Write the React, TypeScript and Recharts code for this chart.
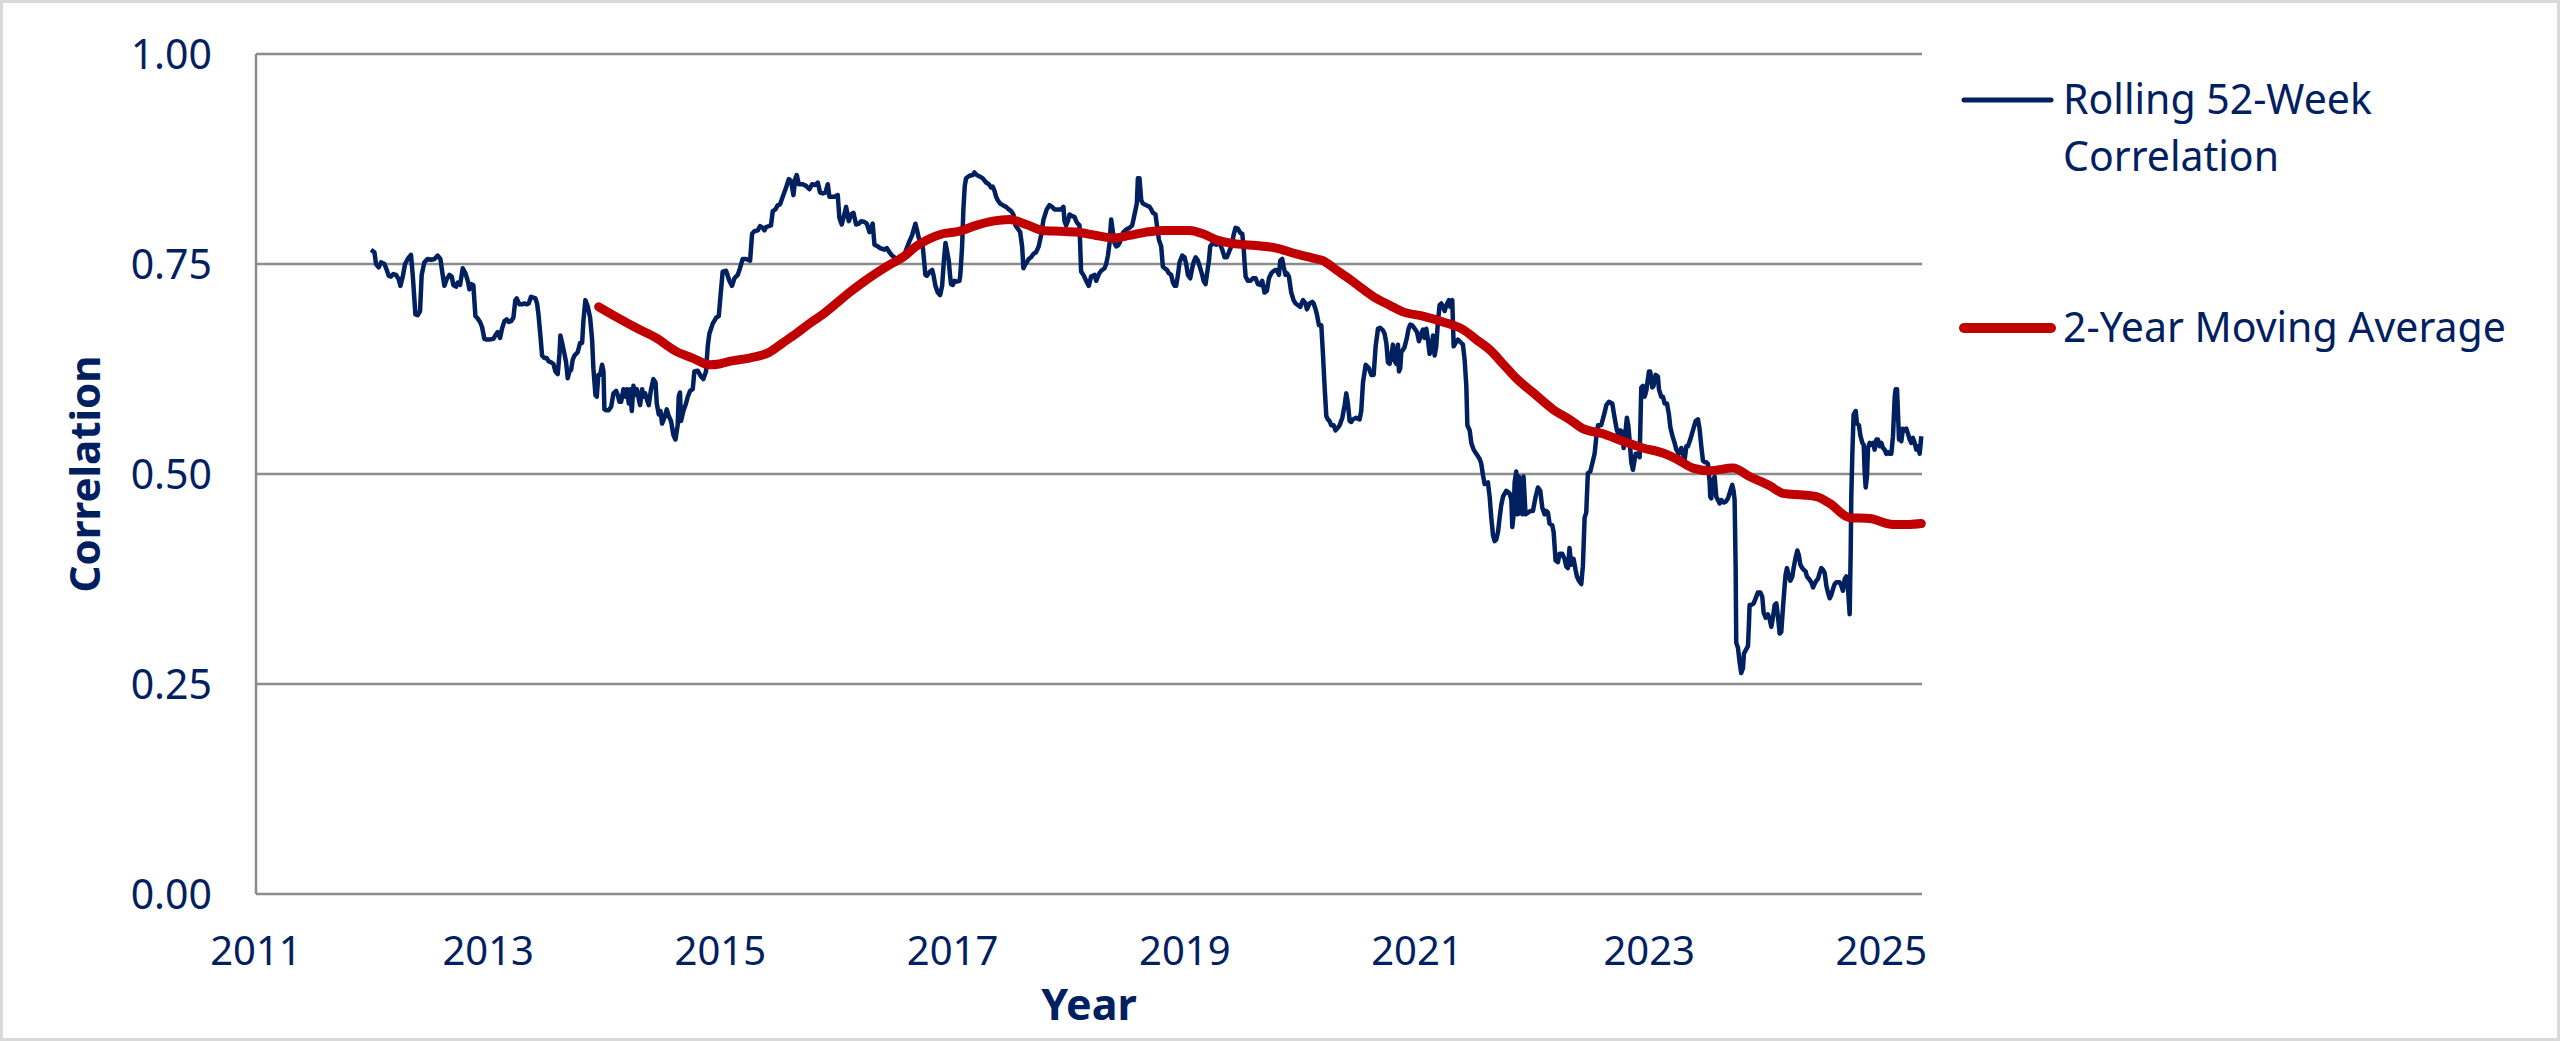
import React from 'react';
import {
  LineChart,
  Line,
  XAxis,
  YAxis,
  CartesianGrid,
  Legend,
} from 'recharts';

// weekly rolling correlation as [year, value]
const rolling2012to2014: [number, number][] = [
  [2011.991, 0.767], [2012.02, 0.764], [2012.034, 0.75], [2012.057, 0.746], [2012.077, 0.752],
  [2012.106, 0.75], [2012.126, 0.743], [2012.143, 0.736], [2012.163, 0.735], [2012.183, 0.738],
  [2012.206, 0.737], [2012.229, 0.732], [2012.244, 0.724], [2012.264, 0.735], [2012.284, 0.75],
  [2012.307, 0.756], [2012.335, 0.761], [2012.35, 0.737], [2012.373, 0.69], [2012.393, 0.689],
  [2012.413, 0.694], [2012.427, 0.737], [2012.45, 0.752], [2012.479, 0.756], [2012.508, 0.755],
  [2012.537, 0.756], [2012.565, 0.76], [2012.588, 0.756], [2012.608, 0.737], [2012.623, 0.724],
  [2012.643, 0.732], [2012.666, 0.737], [2012.686, 0.735], [2012.7, 0.725], [2012.723, 0.723],
  [2012.737, 0.728], [2012.758, 0.725], [2012.781, 0.745], [2012.804, 0.739], [2012.824, 0.73],
  [2012.838, 0.72], [2012.852, 0.726], [2012.872, 0.725], [2012.89, 0.688], [2012.91, 0.685],
  [2012.93, 0.681], [2012.947, 0.675], [2012.967, 0.661], [2012.987, 0.66], [2013.01, 0.66],
  [2013.045, 0.661], [2013.062, 0.665], [2013.082, 0.669], [2013.102, 0.662], [2013.119, 0.673],
  [2013.14, 0.682], [2013.16, 0.684], [2013.177, 0.681], [2013.197, 0.682], [2013.217, 0.686],
  [2013.234, 0.707], [2013.246, 0.709], [2013.269, 0.702], [2013.292, 0.702], [2013.312, 0.703],
  [2013.332, 0.702], [2013.349, 0.703], [2013.369, 0.711], [2013.389, 0.71], [2013.407, 0.709],
  [2013.421, 0.703], [2013.433, 0.69], [2013.447, 0.669], [2013.464, 0.641], [2013.484, 0.638],
  [2013.504, 0.638], [2013.522, 0.634], [2013.542, 0.633], [2013.562, 0.631], [2013.579, 0.622],
  [2013.599, 0.619], [2013.614, 0.643], [2013.622, 0.665], [2013.637, 0.656], [2013.657, 0.643],
  [2013.671, 0.633], [2013.685, 0.614], [2013.7, 0.622], [2013.714, 0.624], [2013.728, 0.636],
  [2013.743, 0.641], [2013.757, 0.643], [2013.771, 0.645], [2013.791, 0.656], [2013.809, 0.656],
  [2013.82, 0.682], [2013.837, 0.707], [2013.858, 0.699], [2013.878, 0.686], [2013.895, 0.66],
  [2013.906, 0.626], [2013.924, 0.594], [2013.935, 0.592], [2013.949, 0.618], [2013.964, 0.618],
  [2013.981, 0.63], [2013.993, 0.622], [2014.001, 0.577], [2014.015, 0.576], [2014.038, 0.576],
  [2014.059, 0.58], [2014.079, 0.596], [2014.102, 0.599], [2014.116, 0.594], [2014.13, 0.586],
  [2014.145, 0.586], [2014.165, 0.601], [2014.182, 0.592], [2014.194, 0.601], [2014.211, 0.584],
  [2014.222, 0.601], [2014.237, 0.575], [2014.251, 0.605], [2014.265, 0.594], [2014.28, 0.601],
  [2014.294, 0.591], [2014.308, 0.582], [2014.326, 0.601], [2014.337, 0.592], [2014.352, 0.596],
  [2014.366, 0.589], [2014.383, 0.582], [2014.403, 0.601], [2014.423, 0.613], [2014.441, 0.609],
  [2014.452, 0.584], [2014.469, 0.571], [2014.484, 0.575], [2014.498, 0.56], [2014.518, 0.567],
  [2014.538, 0.577], [2014.555, 0.569], [2014.575, 0.563], [2014.596, 0.546], [2014.613, 0.541],
];

const rolling2014to2018: [number, number][] = [
  [2014.632, 0.558], [2014.641, 0.592], [2014.652, 0.597], [2014.661, 0.563], [2014.681, 0.575],
  [2014.704, 0.584], [2014.719, 0.592], [2014.739, 0.599], [2014.762, 0.601], [2014.776, 0.622],
  [2014.805, 0.623], [2014.833, 0.616], [2014.853, 0.613], [2014.876, 0.622], [2014.891, 0.652],
  [2014.905, 0.667], [2014.934, 0.679], [2014.963, 0.686], [2014.986, 0.688], [2015.006, 0.72],
  [2015.02, 0.741], [2015.049, 0.742], [2015.077, 0.73], [2015.1, 0.724], [2015.121, 0.733],
  [2015.149, 0.737], [2015.169, 0.745], [2015.192, 0.756], [2015.221, 0.756], [2015.256, 0.754],
  [2015.273, 0.786], [2015.293, 0.789], [2015.322, 0.79], [2015.342, 0.795], [2015.365, 0.793],
  [2015.379, 0.79], [2015.393, 0.794], [2015.416, 0.795], [2015.436, 0.796], [2015.451, 0.813],
  [2015.474, 0.815], [2015.494, 0.82], [2015.514, 0.821], [2015.537, 0.83], [2015.566, 0.841],
  [2015.589, 0.851], [2015.609, 0.849], [2015.629, 0.832], [2015.646, 0.852], [2015.658, 0.856],
  [2015.675, 0.845], [2015.709, 0.845], [2015.738, 0.843], [2015.767, 0.839], [2015.79, 0.845],
  [2015.818, 0.844], [2015.839, 0.847], [2015.859, 0.835], [2015.882, 0.834], [2015.905, 0.835],
  [2015.925, 0.845], [2015.939, 0.83], [2015.954, 0.83], [2015.982, 0.83], [2016.011, 0.832],
  [2016.025, 0.805], [2016.045, 0.797], [2016.068, 0.809], [2016.083, 0.818], [2016.106, 0.801],
  [2016.126, 0.809], [2016.146, 0.811], [2016.169, 0.797], [2016.192, 0.798], [2016.212, 0.801],
  [2016.241, 0.8], [2016.261, 0.798], [2016.284, 0.788], [2016.312, 0.798], [2016.327, 0.773],
  [2016.355, 0.771], [2016.376, 0.769], [2016.413, 0.767], [2016.433, 0.769], [2016.456, 0.764],
  [2016.479, 0.76], [2016.499, 0.758], [2016.528, 0.755], [2016.548, 0.754], [2016.571, 0.756],
  [2016.6, 0.767], [2016.628, 0.777], [2016.651, 0.784], [2016.663, 0.79], [2016.68, 0.798],
  [2016.694, 0.79], [2016.709, 0.781], [2016.743, 0.771], [2016.766, 0.737], [2016.778, 0.736],
  [2016.806, 0.741], [2016.824, 0.743], [2016.835, 0.737], [2016.852, 0.724], [2016.872, 0.716],
  [2016.893, 0.713], [2016.91, 0.724], [2016.924, 0.752], [2016.939, 0.775], [2016.95, 0.767],
  [2016.967, 0.754], [2016.979, 0.735], [2016.987, 0.726], [2017.002, 0.725], [2017.016, 0.73],
  [2017.036, 0.729], [2017.059, 0.73], [2017.065, 0.735], [2017.073, 0.75], [2017.082, 0.771],
  [2017.093, 0.815], [2017.105, 0.843], [2017.116, 0.852], [2017.145, 0.855], [2017.174, 0.856],
  [2017.188, 0.859], [2017.208, 0.856], [2017.237, 0.854], [2017.26, 0.852], [2017.289, 0.847],
  [2017.312, 0.845], [2017.332, 0.841], [2017.346, 0.842], [2017.361, 0.837], [2017.375, 0.83],
  [2017.389, 0.826], [2017.409, 0.822], [2017.432, 0.82], [2017.461, 0.818], [2017.484, 0.815],
  [2017.504, 0.813], [2017.524, 0.809], [2017.542, 0.796], [2017.562, 0.792], [2017.582, 0.788],
  [2017.599, 0.771], [2017.61, 0.745], [2017.628, 0.75], [2017.639, 0.752], [2017.656, 0.756],
  [2017.676, 0.758], [2017.696, 0.762], [2017.719, 0.764], [2017.742, 0.771], [2017.762, 0.784],
  [2017.783, 0.803], [2017.811, 0.815], [2017.834, 0.82], [2017.857, 0.818], [2017.878, 0.815],
  [2017.906, 0.815], [2017.935, 0.815], [2017.955, 0.818], [2017.964, 0.801], [2017.978, 0.796],
  [2017.993, 0.801], [2018.007, 0.809], [2018.03, 0.807], [2018.05, 0.806], [2018.065, 0.801],
  [2018.079, 0.798], [2018.093, 0.796], [2018.107, 0.741], [2018.127, 0.737], [2018.15, 0.73],
  [2018.173, 0.724], [2018.193, 0.735], [2018.222, 0.737],
];

const rolling2018to2021: [number, number][] = [
  [2018.237, 0.73], [2018.26, 0.738], [2018.28, 0.742], [2018.309, 0.745], [2018.323, 0.75],
  [2018.338, 0.76], [2018.352, 0.775], [2018.366, 0.803], [2018.381, 0.788], [2018.395, 0.775],
  [2018.409, 0.771], [2018.424, 0.772], [2018.438, 0.775], [2018.467, 0.787], [2018.495, 0.791],
  [2018.524, 0.793], [2018.547, 0.796], [2018.567, 0.809], [2018.587, 0.822], [2018.596, 0.852],
  [2018.61, 0.852], [2018.625, 0.826], [2018.639, 0.822], [2018.668, 0.82], [2018.697, 0.818],
  [2018.711, 0.815], [2018.725, 0.811], [2018.748, 0.809], [2018.76, 0.796], [2018.777, 0.779],
  [2018.797, 0.771], [2018.811, 0.747], [2018.826, 0.745], [2018.846, 0.743], [2018.863, 0.739],
  [2018.883, 0.737], [2018.898, 0.728], [2018.912, 0.724], [2018.926, 0.724], [2018.941, 0.737],
  [2018.955, 0.752], [2018.978, 0.76], [2018.998, 0.758], [2019.012, 0.75], [2019.027, 0.737],
  [2019.047, 0.733], [2019.064, 0.745], [2019.076, 0.752], [2019.093, 0.758], [2019.113, 0.754],
  [2019.133, 0.745], [2019.15, 0.737], [2019.162, 0.73], [2019.179, 0.726], [2019.19, 0.737],
  [2019.208, 0.754], [2019.219, 0.771], [2019.242, 0.775], [2019.271, 0.773], [2019.3, 0.775],
  [2019.323, 0.767], [2019.343, 0.758], [2019.363, 0.758], [2019.38, 0.764], [2019.4, 0.771],
  [2019.42, 0.784], [2019.437, 0.793], [2019.458, 0.792], [2019.478, 0.787], [2019.495, 0.786],
  [2019.506, 0.771], [2019.515, 0.752], [2019.524, 0.735], [2019.544, 0.73], [2019.564, 0.73],
  [2019.587, 0.733], [2019.61, 0.733], [2019.63, 0.726], [2019.65, 0.725], [2019.667, 0.73],
  [2019.687, 0.716], [2019.707, 0.718], [2019.725, 0.733], [2019.745, 0.739], [2019.759, 0.741],
  [2019.782, 0.743], [2019.796, 0.742], [2019.811, 0.737], [2019.822, 0.754], [2019.839, 0.756],
  [2019.851, 0.747], [2019.868, 0.737], [2019.88, 0.739], [2019.897, 0.735], [2019.917, 0.716],
  [2019.937, 0.707], [2019.954, 0.703], [2019.975, 0.701], [2019.995, 0.699], [2020.018, 0.707],
  [2020.041, 0.703], [2020.052, 0.696], [2020.075, 0.703], [2020.098, 0.705], [2020.11, 0.703],
  [2020.127, 0.696], [2020.138, 0.69], [2020.156, 0.677], [2020.176, 0.677], [2020.19, 0.643],
  [2020.204, 0.605], [2020.219, 0.569], [2020.233, 0.565], [2020.247, 0.563], [2020.262, 0.558],
  [2020.282, 0.558], [2020.299, 0.552], [2020.319, 0.555], [2020.334, 0.558], [2020.357, 0.567],
  [2020.377, 0.582], [2020.391, 0.596], [2020.405, 0.584], [2020.42, 0.563], [2020.434, 0.562],
  [2020.448, 0.565], [2020.477, 0.567], [2020.506, 0.565], [2020.52, 0.575], [2020.535, 0.609],
  [2020.558, 0.63], [2020.586, 0.626], [2020.606, 0.618], [2020.627, 0.618], [2020.644, 0.652],
  [2020.664, 0.673], [2020.684, 0.674], [2020.707, 0.671], [2020.721, 0.667], [2020.736, 0.656],
  [2020.75, 0.633], [2020.764, 0.631], [2020.779, 0.641], [2020.793, 0.654], [2020.807, 0.635],
  [2020.822, 0.631], [2020.836, 0.654], [2020.845, 0.622], [2020.856, 0.626], [2020.865, 0.645],
  [2020.879, 0.648], [2020.893, 0.651], [2020.913, 0.662], [2020.928, 0.673], [2020.942, 0.678],
  [2020.959, 0.677], [2020.98, 0.673], [2021.0, 0.669], [2021.017, 0.658], [2021.037, 0.667],
  [2021.051, 0.672], [2021.066, 0.662], [2021.08, 0.673], [2021.094, 0.66], [2021.109, 0.643],
  [2021.123, 0.648], [2021.138, 0.665], [2021.152, 0.641], [2021.166, 0.652], [2021.181, 0.682],
  [2021.195, 0.701], [2021.209, 0.703], [2021.224, 0.699], [2021.238, 0.694], [2021.253, 0.701],
  [2021.276, 0.707], [2021.287, 0.699], [2021.304, 0.707], [2021.316, 0.652], [2021.333, 0.656],
  [2021.353, 0.66], [2021.368, 0.658], [2021.382, 0.656], [2021.396, 0.654], [2021.411, 0.635],
  [2021.425, 0.605], [2021.434, 0.558], [2021.454, 0.552], [2021.468, 0.537], [2021.488, 0.529],
  [2021.511, 0.524], [2021.54, 0.518], [2021.554, 0.512], [2021.568, 0.499], [2021.583, 0.488],
  [2021.611, 0.49], [2021.626, 0.473], [2021.64, 0.448], [2021.655, 0.427], [2021.669, 0.42],
  [2021.683, 0.422], [2021.698, 0.431], [2021.712, 0.448], [2021.726, 0.463], [2021.741, 0.473],
  [2021.769, 0.48], [2021.798, 0.477], [2021.813, 0.469], [2021.821, 0.437], [2021.833, 0.452],
  [2021.841, 0.49],
];

const rolling2021to2025: [number, number][] = [
  [2021.855, 0.503], [2021.869, 0.452], [2021.878, 0.497], [2021.889, 0.49], [2021.907, 0.452],
  [2021.918, 0.497], [2021.935, 0.452], [2021.956, 0.454], [2021.976, 0.456], [2021.999, 0.456],
  [2022.022, 0.473], [2022.042, 0.484], [2022.062, 0.48], [2022.079, 0.46], [2022.099, 0.452],
  [2022.113, 0.456], [2022.128, 0.454], [2022.142, 0.441], [2022.165, 0.439], [2022.177, 0.431],
  [2022.194, 0.397], [2022.214, 0.395], [2022.228, 0.405], [2022.251, 0.405], [2022.271, 0.399],
  [2022.286, 0.39], [2022.3, 0.388], [2022.314, 0.412], [2022.329, 0.392], [2022.349, 0.399],
  [2022.366, 0.386], [2022.378, 0.378], [2022.395, 0.373], [2022.415, 0.369], [2022.429, 0.39],
  [2022.444, 0.448], [2022.458, 0.454], [2022.472, 0.501], [2022.493, 0.503], [2022.516, 0.516],
  [2022.53, 0.524], [2022.544, 0.543], [2022.559, 0.558], [2022.587, 0.558], [2022.616, 0.573],
  [2022.631, 0.582], [2022.653, 0.586], [2022.682, 0.584], [2022.702, 0.567], [2022.722, 0.552],
  [2022.74, 0.546], [2022.751, 0.552], [2022.768, 0.55], [2022.78, 0.531], [2022.797, 0.552],
  [2022.808, 0.567], [2022.82, 0.558], [2022.831, 0.541], [2022.846, 0.514], [2022.86, 0.505],
  [2022.883, 0.524], [2022.903, 0.524], [2022.918, 0.52], [2022.932, 0.603], [2022.946, 0.605],
  [2022.961, 0.592], [2022.975, 0.599], [2022.998, 0.622], [2023.009, 0.622], [2023.027, 0.603],
  [2023.038, 0.605], [2023.055, 0.618], [2023.075, 0.616], [2023.084, 0.601], [2023.104, 0.592],
  [2023.119, 0.592], [2023.133, 0.584], [2023.153, 0.584], [2023.17, 0.571], [2023.182, 0.556],
  [2023.199, 0.546], [2023.219, 0.537], [2023.234, 0.529], [2023.256, 0.524], [2023.277, 0.531],
  [2023.291, 0.524], [2023.305, 0.516], [2023.32, 0.533], [2023.334, 0.533], [2023.354, 0.541],
  [2023.377, 0.552], [2023.4, 0.563], [2023.42, 0.565], [2023.434, 0.554], [2023.449, 0.533],
  [2023.463, 0.516], [2023.478, 0.514], [2023.492, 0.514], [2023.506, 0.512], [2023.521, 0.49],
  [2023.526, 0.473], [2023.535, 0.471], [2023.549, 0.492], [2023.564, 0.497], [2023.578, 0.473],
  [2023.592, 0.469], [2023.607, 0.465], [2023.621, 0.469], [2023.641, 0.466], [2023.659, 0.467],
  [2023.679, 0.471], [2023.699, 0.48], [2023.716, 0.487], [2023.727, 0.48], [2023.736, 0.469],
  [2023.745, 0.388], [2023.75, 0.299], [2023.765, 0.293], [2023.779, 0.276], [2023.793, 0.263],
  [2023.808, 0.269], [2023.816, 0.286], [2023.831, 0.29], [2023.851, 0.295], [2023.859, 0.32],
  [2023.865, 0.344], [2023.88, 0.344], [2023.9, 0.346], [2023.917, 0.352], [2023.937, 0.359],
  [2023.957, 0.359], [2023.974, 0.354], [2023.986, 0.335], [2024.003, 0.329], [2024.023, 0.333],
  [2024.038, 0.327], [2024.052, 0.318], [2024.066, 0.329], [2024.081, 0.344], [2024.095, 0.346],
  [2024.109, 0.331], [2024.124, 0.31], [2024.138, 0.312], [2024.153, 0.342], [2024.167, 0.367],
  [2024.175, 0.38], [2024.187, 0.388], [2024.204, 0.378], [2024.216, 0.373], [2024.233, 0.378],
  [2024.244, 0.388], [2024.262, 0.401], [2024.276, 0.409], [2024.29, 0.403], [2024.302, 0.392],
  [2024.319, 0.388], [2024.331, 0.386], [2024.348, 0.384], [2024.359, 0.378], [2024.377, 0.375],
  [2024.397, 0.371], [2024.411, 0.365], [2024.425, 0.369], [2024.44, 0.373], [2024.454, 0.375],
  [2024.468, 0.382], [2024.483, 0.388], [2024.497, 0.386], [2024.512, 0.382], [2024.526, 0.367],
  [2024.54, 0.359], [2024.555, 0.352], [2024.569, 0.356], [2024.583, 0.363], [2024.598, 0.369],
  [2024.612, 0.371], [2024.641, 0.371], [2024.655, 0.367], [2024.669, 0.361], [2024.684, 0.375],
  [2024.698, 0.378], [2024.713, 0.363], [2024.727, 0.333], [2024.736, 0.409], [2024.741, 0.473],
  [2024.75, 0.524], [2024.761, 0.571], [2024.779, 0.575], [2024.79, 0.56], [2024.807, 0.558],
  [2024.819, 0.546], [2024.836, 0.537], [2024.848, 0.535], [2024.856, 0.503], [2024.865, 0.484],
  [2024.876, 0.497], [2024.885, 0.531], [2024.899, 0.537], [2024.914, 0.535], [2024.928, 0.537],
  [2024.942, 0.529], [2024.957, 0.541], [2024.971, 0.541], [2024.985, 0.533], [2025.0, 0.537],
  [2025.014, 0.531], [2025.028, 0.529], [2025.043, 0.524], [2025.057, 0.526], [2025.071, 0.524],
  [2025.086, 0.524], [2025.1, 0.545], [2025.115, 0.592], [2025.123, 0.601], [2025.135, 0.601],
  [2025.152, 0.541], [2025.163, 0.554], [2025.172, 0.539], [2025.186, 0.554], [2025.201, 0.552],
  [2025.215, 0.554], [2025.229, 0.548], [2025.244, 0.541], [2025.258, 0.537], [2025.272, 0.543],
  [2025.287, 0.537], [2025.301, 0.529], [2025.316, 0.533], [2025.33, 0.524], [2025.344, 0.545],
];

// 2-year moving average of the above
const movingAverage: [number, number][] = [
  [2013.952, 0.699], [2014.102, 0.687], [2014.274, 0.674], [2014.446, 0.662], [2014.618, 0.646],
  [2014.762, 0.638], [2014.905, 0.63], [2014.991, 0.631], [2015.077, 0.634], [2015.25, 0.638],
  [2015.422, 0.645], [2015.537, 0.656], [2015.652, 0.667], [2015.767, 0.679], [2015.882, 0.69],
  [2015.997, 0.703], [2016.111, 0.716], [2016.226, 0.728], [2016.341, 0.739], [2016.456, 0.749],
  [2016.571, 0.758], [2016.686, 0.771], [2016.801, 0.78], [2016.916, 0.786], [2017.059, 0.789],
  [2017.203, 0.796], [2017.346, 0.801], [2017.49, 0.803], [2017.634, 0.797], [2017.777, 0.79],
  [2017.921, 0.789], [2018.064, 0.788], [2018.237, 0.784], [2018.381, 0.781], [2018.524, 0.784],
  [2018.668, 0.788], [2018.811, 0.79], [2019.041, 0.79], [2019.156, 0.786], [2019.271, 0.779],
  [2019.443, 0.774], [2019.615, 0.772], [2019.788, 0.769], [2019.96, 0.762], [2020.104, 0.757],
  [2020.19, 0.754], [2020.305, 0.743], [2020.42, 0.732], [2020.535, 0.72], [2020.649, 0.709],
  [2020.764, 0.701], [2020.879, 0.693], [2021.051, 0.688], [2021.224, 0.681], [2021.396, 0.672],
  [2021.511, 0.66], [2021.626, 0.648], [2021.741, 0.631], [2021.855, 0.614], [2021.999, 0.597],
  [2022.171, 0.577], [2022.314, 0.565], [2022.429, 0.554], [2022.602, 0.548], [2022.774, 0.539],
  [2022.946, 0.531], [2023.119, 0.525], [2023.234, 0.518], [2023.377, 0.507], [2023.521, 0.504],
  [2023.722, 0.507], [2023.865, 0.497], [2024.038, 0.486], [2024.153, 0.477], [2024.325, 0.475],
  [2024.44, 0.473], [2024.555, 0.465], [2024.727, 0.448], [2024.899, 0.447], [2025.1, 0.44],
  [2025.244, 0.44], [2025.344, 0.441],
];

const yearTicks = [2011, 2013, 2015, 2017, 2019, 2021, 2023, 2025];
const correlationTicks = [0, 0.25, 0.5, 0.75, 1];

const NAVY = '#002060';
const RED = '#C00000';
const GRID = '#8c8c8c';
const FONT = '"Noto Sans", sans-serif';
const LEGEND_WIDTH = 580;

const toPoints = (rows: [number, number][]) =>
  rows.map(([year, value]) => ({ year, value }));

const rollingData = toPoints([
  ...rolling2012to2014,
  ...rolling2014to2018,
  ...rolling2018to2021,
  ...rolling2021to2025,
]);
const averageData = toPoints(movingAverage);

const legendItems = [
  { label: 'Rolling 52-Week Correlation', color: NAVY, width: 5 },
  { label: '2-Year Moving Average', color: RED, width: 10 },
];

const renderLegend = () => (
  <div style={{ fontFamily: FONT, color: NAVY, fontSize: 41, lineHeight: '57px' }}>
    {legendItems.map((item, i) => (
      <div
        key={item.label}
        style={{ display: 'flex', alignItems: 'flex-start', marginTop: i === 0 ? 0 : 114 }}
      >
        <svg width={105} height={57} style={{ flex: 'none' }}>
          <line
            x1={6}
            x2={93}
            y1={30}
            y2={30}
            stroke={item.color}
            strokeWidth={item.width}
            strokeLinecap="round"
          />
        </svg>
        <div style={{ width: 460 }}>{item.label}</div>
      </div>
    ))}
  </div>
);

export default function App() {
  return (
    <div
      style={{
        position: 'absolute',
        left: 0,
        top: 0,
        width: 2560,
        height: 1041,
        background: '#ffffff',
        fontFamily: FONT,
      }}
    >
      {/* the vertical legend on the right adds its width to the right offset */}
      <LineChart
        width={2560}
        height={1041}
        margin={{ top: 54, right: 638 - LEGEND_WIDTH, bottom: 17, left: 0 }}
      >
        <CartesianGrid vertical={false} stroke={GRID} strokeWidth={2.5} />
        <XAxis
          dataKey="year"
          type="number"
          domain={[2011, 2025.35]}
          ticks={yearTicks}
          interval={0}
          allowDecimals={false}
          height={130}
          axisLine={false}
          tickLine={false}
          tickSize={0}
          tickMargin={43}
          tick={{ fill: NAVY, fontSize: 40, fontFamily: FONT }}
          label={{
            value: 'Year',
            position: 'insideBottom',
            offset: 4,
            fill: NAVY,
            fontSize: 43,
            fontWeight: 700,
            fontFamily: FONT,
          }}
        />
        <YAxis
          type="number"
          domain={[0, 1]}
          ticks={correlationTicks}
          interval={0}
          width={256}
          axisLine={{ stroke: GRID, strokeWidth: 2.5 }}
          tickLine={false}
          tickSize={0}
          tickMargin={44}
          tickFormatter={(v: number) => v.toFixed(2)}
          tick={{ fill: NAVY, fontSize: 41, fontFamily: FONT }}
          label={{
            value: 'Correlation',
            angle: -90,
            position: 'insideLeft',
            offset: 85,
            fill: NAVY,
            fontSize: 42,
            fontWeight: 700,
            fontFamily: FONT,
            style: { textAnchor: 'middle' },
          }}
        />
        <Legend
          layout="vertical"
          align="right"
          verticalAlign="top"
          content={renderLegend}
          wrapperStyle={{ left: 1958, top: 70, right: 'auto', width: LEGEND_WIDTH }}
        />
        <Line
          data={rollingData}
          dataKey="value"
          name="Rolling 52-Week Correlation"
          type="linear"
          stroke={NAVY}
          strokeWidth={4.5}
          strokeLinejoin="round"
          dot={false}
          activeDot={false}
          isAnimationActive={false}
        />
        <Line
          data={averageData}
          dataKey="value"
          name="2-Year Moving Average"
          type="monotone"
          stroke={RED}
          strokeWidth={9}
          strokeLinecap="round"
          dot={false}
          activeDot={false}
          isAnimationActive={false}
        />
      </LineChart>
      <div
        style={{
          position: 'absolute',
          inset: 0,
          border: '3px solid #d9d9d9',
          boxSizing: 'border-box',
          pointerEvents: 'none',
        }}
      />
    </div>
  );
}
